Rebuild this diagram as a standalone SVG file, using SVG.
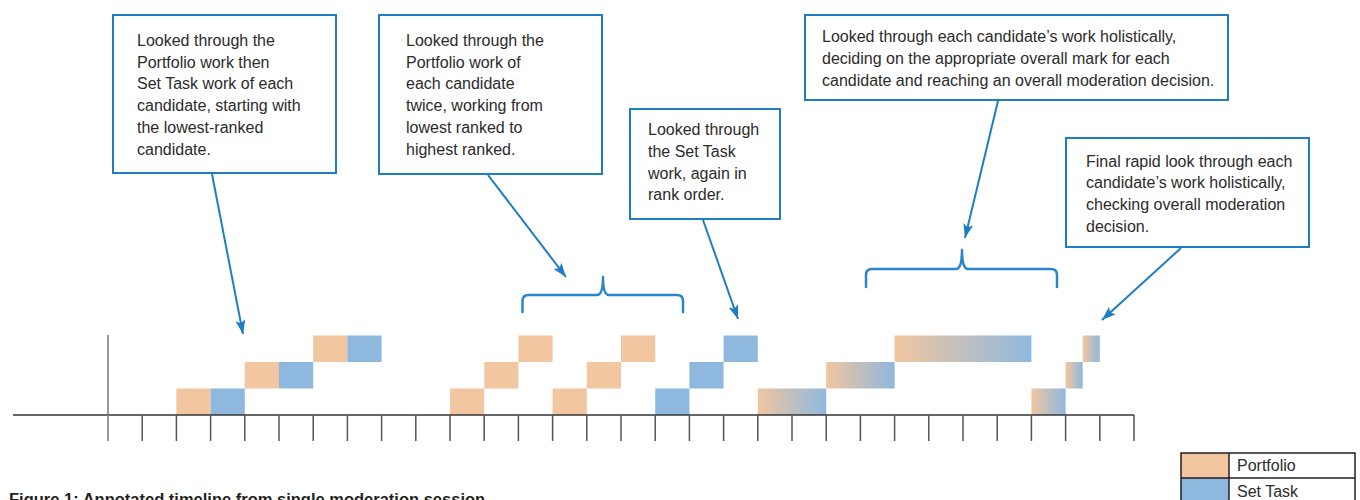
<svg xmlns="http://www.w3.org/2000/svg" width="1360" height="500" viewBox="0 0 1360 500">
<style>
  .box { fill: #ffffff; stroke: #1f7ec2; stroke-width: 2; }
  .txt { font-family: "Liberation Sans", Arial, sans-serif; font-size: 16px; fill: #2b2b2b; }
  .conn { stroke: #1f7ec2; stroke-width: 2; fill: none; }
  .brace { stroke: #2a86c9; stroke-width: 2.5; fill: none; stroke-linecap: round; stroke-linejoin: round; }
  .p { fill: #f1c6a0; }
  .s { fill: #8fb8de; }
  .g { fill: url(#grad); }
  .axis { stroke: #333333; stroke-width: 1.5; }
  .tick { stroke: #555555; stroke-width: 1.5; }
  .leg { fill: none; stroke: #231f20; stroke-width: 1.5; }
  .cap { font-family: "Liberation Sans", Arial, sans-serif; font-size: 16.5px; font-weight: bold; fill: #231f20; }
</style>
<defs>
  <linearGradient id="grad" x1="0" y1="0" x2="1" y2="0">
    <stop offset="0" stop-color="#f1c6a0"/>
    <stop offset="1" stop-color="#8fb8de"/>
  </linearGradient>
  <marker id="arr" markerUnits="userSpaceOnUse" markerWidth="16" markerHeight="12" refX="14" refY="6" orient="auto">
    <path d="M0,1 L14,6 L0,11 L3,6 Z" fill="#1f7ec2"/>
  </marker>
</defs>

<g id="connectors">
  <line class="conn" x1="212" y1="174" x2="243" y2="334" marker-end="url(#arr)"/>
  <line class="conn" x1="488" y1="175" x2="566" y2="277" marker-end="url(#arr)"/>
  <line class="conn" x1="703" y1="220" x2="738" y2="319" marker-end="url(#arr)"/>
  <line class="conn" x1="998" y1="101" x2="965" y2="238" marker-end="url(#arr)"/>
  <line class="conn" x1="1181" y1="248" x2="1102" y2="320" marker-end="url(#arr)"/>
</g>

<g id="brace1">
  <path class="brace" d="M522.5,312 L522.5,301 Q522.5,295 528.5,295 L597,295 Q603,295 603,277 Q603,295 609,295 L677,295 Q683,295 683,301 L683,312"/>
</g>
<g id="brace2">
  <path class="brace" d="M866,287 L866,275 Q866,269 872,269 L956,269 Q962,269 962,250 Q962,269 968,269 L1051,269 Q1057,269 1057,275 L1057,287"/>
</g>

<g id="box1">
  <rect class="box" x="113" y="15" width="223" height="158"/>
  <text class="txt" x="137" y="45.7">Looked through the</text>
  <text class="txt" x="137" y="67.5">Portfolio work then</text>
  <text class="txt" x="137" y="89.3">Set Task work of each</text>
  <text class="txt" x="137" y="111.1">candidate, starting with</text>
  <text class="txt" x="137" y="132.9">the lowest-ranked</text>
  <text class="txt" x="137" y="154.7">candidate.</text>
</g>

<g id="box2">
  <rect class="box" x="379" y="15" width="223" height="159"/>
  <text class="txt" x="406" y="45.7">Looked through the</text>
  <text class="txt" x="406" y="67.5">Portfolio work of</text>
  <text class="txt" x="406" y="89.3">each candidate</text>
  <text class="txt" x="406" y="111.1">twice, working from</text>
  <text class="txt" x="406" y="132.9">lowest ranked to</text>
  <text class="txt" x="406" y="154.7">highest ranked.</text>
</g>

<g id="box3">
  <rect class="box" x="630" y="109" width="150" height="110"/>
  <text class="txt" x="648" y="135">Looked through</text>
  <text class="txt" x="648" y="156.8">the Set Task</text>
  <text class="txt" x="648" y="178.6">work, again in</text>
  <text class="txt" x="648" y="200.4">rank order.</text>
</g>

<g id="box4">
  <rect class="box" x="805" y="15" width="423" height="85"/>
  <text class="txt" x="822" y="42.3">Looked through each candidate’s work holistically,</text>
  <text class="txt" x="822" y="64.1">deciding on the appropriate overall mark for each</text>
  <text class="txt" x="822" y="85.9">candidate and reaching an overall moderation decision.</text>
</g>

<g id="box5">
  <rect class="box" x="1066" y="138" width="243" height="109"/>
  <text class="txt" x="1086" y="166.5">Final rapid look through each</text>
  <text class="txt" x="1086" y="188.3">candidate’s work holistically,</text>
  <text class="txt" x="1086" y="210.1">checking overall moderation</text>
  <text class="txt" x="1086" y="231.9">decision.</text>
</g>

<g id="bars">
  <rect class="p" x="176.4" y="388.5" width="34.2" height="26.5"/>
  <rect class="s" x="210.6" y="388.5" width="34.2" height="26.5"/>
  <rect class="p" x="244.8" y="362" width="34.2" height="26.5"/>
  <rect class="s" x="279" y="362" width="34.2" height="26.5"/>
  <rect class="p" x="313.2" y="335.5" width="34.2" height="26.5"/>
  <rect class="s" x="347.4" y="335.5" width="34.2" height="26.5"/>

  <rect class="p" x="450" y="388.5" width="34.2" height="26.5"/>
  <rect class="p" x="484.2" y="362" width="34.2" height="26.5"/>
  <rect class="p" x="518.4" y="335.5" width="34.2" height="26.5"/>
  <rect class="p" x="552.6" y="388.5" width="34.2" height="26.5"/>
  <rect class="p" x="586.8" y="362" width="34.2" height="26.5"/>
  <rect class="p" x="621" y="335.5" width="34.2" height="26.5"/>

  <rect class="s" x="655.2" y="388.5" width="34.2" height="26.5"/>
  <rect class="s" x="689.4" y="362" width="34.2" height="26.5"/>
  <rect class="s" x="723.6" y="335.5" width="34.2" height="26.5"/>

  <rect class="g" x="757.8" y="388.5" width="68.4" height="26.5"/>
  <rect class="g" x="826.2" y="362" width="68.4" height="26.5"/>
  <rect class="g" x="894.6" y="335.5" width="136.8" height="26.5"/>
  <rect class="g" x="1031.4" y="388.5" width="34.2" height="26.5"/>
  <rect class="g" x="1065.6" y="362" width="17.1" height="26.5"/>
  <rect class="g" x="1082.7" y="335.5" width="17.1" height="26.5"/>
</g>

<g id="axis">
  <line class="axis" x1="13" y1="415" x2="1134" y2="415"/>
  <line x1="108" y1="335" x2="108" y2="441" stroke="#777777" stroke-width="1.5"/>
  <path class="tick" d="M142.2,415V441M176.4,415V441M210.6,415V441M244.8,415V441M279,415V441M313.2,415V441M347.4,415V441M381.6,415V441M415.8,415V441M450,415V441M484.2,415V441M518.4,415V441M552.6,415V441M586.8,415V441M621,415V441M655.2,415V441M689.4,415V441M723.6,415V441M757.8,415V441M792,415V441M826.2,415V441M860.4,415V441M894.6,415V441M928.8,415V441M963,415V441M997.2,415V441M1031.4,415V441M1065.6,415V441M1099.8,415V441M1134,415V441"/>
</g>

<g id="legend">
  <rect class="p" x="1181" y="453" width="48" height="25"/>
  <rect class="s" x="1181" y="478" width="48" height="25"/>
  <rect class="leg" x="1181" y="453" width="174" height="50"/>
  <line class="leg" x1="1229" y1="453" x2="1229" y2="503"/>
  <line class="leg" x1="1181" y1="478" x2="1355" y2="478"/>
  <text class="txt" x="1237" y="471">Portfolio</text>
  <text class="txt" x="1237" y="497">Set Task</text>
</g>

<text class="cap" x="9" y="504.8">Figure 1: Annotated timeline from single moderation session</text>
</svg>
